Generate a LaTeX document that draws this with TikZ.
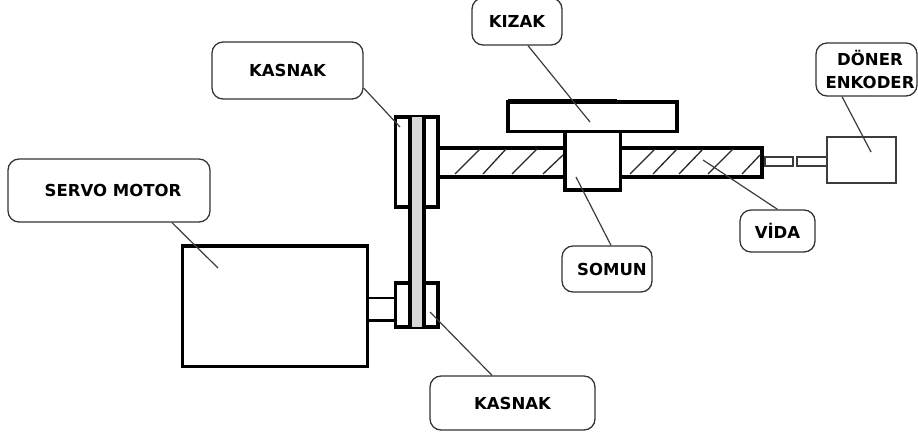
\documentclass[tikz,border=0pt]{standalone}
\usepackage{fontspec}
\setmainfont{DejaVu Sans}
\usetikzlibrary{positioning}
\definecolor{mygray}{RGB}{214,214,214}
\definecolor{myline}{RGB}{60,60,60}
\tikzset{
  part/.style={draw=black,line width=0.078cm,line join=miter},
  thinpart/.style={draw=myline,line width=0.03cm},
  hatch/.style={draw=black!85,line width=0.026cm},
  leader/.style={draw=myline,line width=0.024cm},
  lbl/.style={draw=black!80,line width=0.026cm,rounded corners=0.22cm,fill=white,inner sep=0pt,
    align=center,font=\fontsize{9.4}{13}\selectfont\bfseries},
}
\begin{document}
\begin{tikzpicture}[x=0.02cm,y=-0.02cm]
\useasboundingbox (0,0) rectangle (918,436);
% Motor and its shaft
\draw[part] (182.5,246) rectangle (367.5,366.5);
\draw[part,line width=0.05cm] (367.5,298) -- (395.5,298);
\draw[part,line width=0.05cm] (367.5,320.5) -- (395.5,320.5);
% Pulleys
\draw[part] (395.5,117) rectangle (438,207);
\draw[part] (395.5,283) rectangle (438,327);
% Belt
\fill[mygray] (410,117) rectangle (424,327);
\draw[part] (410,117) -- (410,327);
\draw[part] (424,117) -- (424,327);
% Screw
\draw[part] (438,147.7) -- (564.7,147.7);
\draw[part] (438,177) -- (564.7,177);
\draw[part] (620.5,147.7) -- (762,147.7) -- (762,177) -- (620.5,177);
\foreach \xa/\ya/\xb/\yb in {455/174/480/149,483/174/506/149,512/174/537/149,543/174/563/155,
  630/174/655/149,653/174/677/149,679/174/703/149,708/174/733/149,742/174/760/155}
  {\draw[hatch] (\xa,\ya) -- (\xb,\yb);}
% Nut and slide
\draw[part,fill=white] (564.7,131.5) rectangle (620.5,190);
\draw[part] (508,102) rectangle (677,131.5);
\draw[part] (508,100.5) -- (617,100.5);
% Encoder
\draw[thinpart] (765,157) rectangle (793,166);
\draw[thinpart] (797,157) rectangle (827,166);
\draw[thinpart,fill=white] (827,137) rectangle (896,183);
% Labels
\node[lbl,minimum width=3.02cm,minimum height=1.14cm] (kasnakust) at (287.5,70.5) {KASNAK};
\node[lbl,minimum width=1.8cm,minimum height=0.94cm] (kizak) at (517,21.5) {KIZAK};
\node[lbl,minimum width=4.04cm,minimum height=1.26cm] (servo) at (109,190.5) {\hspace*{0.16cm}SERVO MOTOR};
\node[lbl,minimum width=1.8cm,minimum height=0.92cm] (somun) at (607,269) {\hspace*{0.2cm}SOMUN};
\node[lbl,minimum width=3.3cm,minimum height=1.08cm] (kasnakalt) at (512.5,403) {KASNAK};
\node[lbl,minimum width=1.5cm,minimum height=0.84cm] (vida) at (777.5,231) {VİDA};
\node[lbl,minimum width=2.02cm,minimum height=1.06cm] (doner) at (866.5,69.5) {\hspace*{0.14cm}DÖNER\\\hspace*{0.14cm}ENKODER};
% Leader lines
\coordinate (kasnakustuc) at (400,127);
\coordinate (kizakuc) at (590,122);
\coordinate (servouc) at (218,268);
\coordinate (somunuc) at (576,177);
\coordinate (kasnakaltuc) at (430,312);
\coordinate (vidauc) at (703,160);
\coordinate (doneruc) at (871,152);
\draw[leader] ([yshift=-0.35cm]kasnakust.east) -- (kasnakustuc);
\draw[leader] ([xshift=0.22cm]kizak.south) -- (kizakuc);
\draw[leader] ([xshift=1.26cm]servo.south) -- (servouc);
\draw[leader] ([xshift=0.08cm]somun.north) -- (somunuc);
\draw[leader] ([xshift=-0.41cm]kasnakalt.north) -- (kasnakaltuc);
\draw[leader] (vida.north) -- (vidauc);
\draw[leader] ([xshift=-0.49cm]doner.south) -- (doneruc);
\end{tikzpicture}
\end{document}
